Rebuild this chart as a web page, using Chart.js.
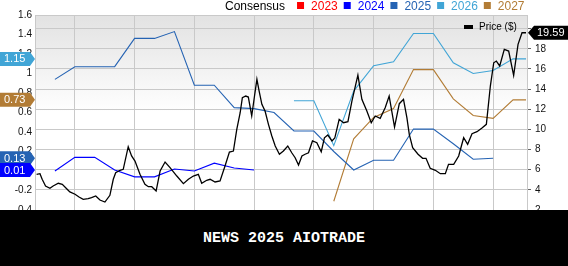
<!DOCTYPE html>
<html>
<head>
<meta charset="utf-8">
<script src="https://cdn.jsdelivr.net/npm/chart.js@4.4.1/dist/chart.umd.min.js"></script>
<style>
html, body { margin: 0; padding: 0; background: #fff; }
#wrap { position: relative; width: 568px; height: 266px; overflow: hidden; }
#c { display: block; }
#band { position: absolute; left: 0; top: 210px; width: 568px; height: 56px; background: #000; color: #fff;
  font: bold 15px "Liberation Mono", "DejaVu Sans Mono", monospace; text-align: center; line-height: 58px; }
</style>
</head>
<body>
<div id="wrap">
  <canvas id="c" width="568" height="220"></canvas>
  <div id="band">NEWS 2025 AIOTRADE</div>
</div>
<script>
// consensus EPS estimates, one value per month (last slot = today)
var years = ['2023', '2024', '2025', '2026', '2027'];
var yearColors = ['#ff0000', '#0000ff', '#2563b3', '#41a5d6', '#b27c35'];
var months = [0, 1, 2, 3, 4, 5, 6, 7, 8, 9, 10, 11, 12, 13, 14, 15, 16, 17, 18, 19, 20, 21, 22, 23, 23.65];

var est2023 = [null, null, null, null, null, null, null, null, null, null, null, null, null, null, null, null, null, null, null, null, null, null, null, null, null];
var est2024 = [0.00, 0.14, 0.14, 0.01, -0.06, -0.06, 0.02, 0.00, 0.08, 0.03, 0.01, null, null, null, null, null, null, null, null, null, null, null, null, null, null];
var est2025 = [0.94, 1.07, 1.07, 1.07, 1.36, 1.36, 1.43, 0.88, 0.88, 0.65, 0.64, 0.60, 0.41, 0.41, 0.20, 0.01, 0.11, 0.11, 0.43, 0.43, 0.28, 0.12, 0.13, null, null];
var est2026 = [null, null, null, null, null, null, null, null, null, null, null, null, 0.72, 0.72, 0.26, 0.82, 1.08, 1.12, 1.41, 1.41, 1.11, 1.00, 1.03, 1.15, 1.15];
var est2027 = [null, null, null, null, null, null, null, null, null, null, null, null, null, null, -0.31, 0.33, 0.55, 0.64, 1.04, 1.04, 0.74, 0.57, 0.54, 0.73, 0.73];

// weekly share price ($), x in months
var priceWeeks = [-0.92, -0.75, -0.64, -0.47, -0.25, -0.09, 0.17, 0.37, 0.59, 0.75, 1.01, 1.21, 1.42, 1.67, 1.84, 2.05, 2.26, 2.51, 2.76, 2.93,
  3.05, 3.27, 3.43, 3.68, 3.85, 4.02, 4.27, 4.52, 4.69, 4.86, 5.08, 5.28, 5.53, 5.78, 6.12, 6.45, 6.70, 6.95, 7.20, 7.37,
  7.62, 7.79, 8.04, 8.29, 8.54, 8.76, 8.96, 9.13, 9.30, 9.41, 9.58, 9.71, 9.88, 10.02, 10.14, 10.25, 10.39, 10.55, 10.72, 10.89,
  11.06, 11.27, 11.47, 11.69, 11.89, 12.06, 12.23, 12.40, 12.56, 12.73, 12.93, 13.15, 13.37, 13.53, 13.70, 13.91, 14.05, 14.27, 14.49, 14.71,
  14.91, 15.21, 15.41, 15.66, 15.88, 16.08, 16.33, 16.58, 16.78, 17.05, 17.29, 17.50, 17.67, 17.79, 17.96, 18.23, 18.46, 18.63, 18.84, 19.10,
  19.35, 19.60, 19.76, 20.02, 20.27, 20.52, 20.72, 20.94, 21.19, 21.44, 21.66, 21.86, 22.03, 22.16, 22.33, 22.56, 22.78, 23.03, 23.25, 23.45, 23.65];
var prices = [5.54, 5.60, 5.05, 4.38, 4.15, 4.38, 4.65, 4.55, 4.11, 3.79, 3.56, 3.29, 3.06, 3.12, 3.22, 3.39, 2.99, 2.79, 3.46, 5.05,
  5.70, 5.94, 6.04, 8.28, 7.36, 6.86, 5.54, 4.55, 4.31, 4.31, 3.88, 5.87, 6.76, 6.20, 5.37, 4.61, 5.05, 5.37, 5.54, 4.65,
  4.95, 5.05, 4.78, 4.88, 6.37, 7.75, 7.85, 10.01, 11.65, 13.14, 13.31, 13.21, 11.33, 13.31, 14.97, 13.81, 12.49, 11.82, 10.50, 9.34,
  8.35, 7.53, 7.85, 8.35, 7.68, 7.19, 6.46, 7.36, 7.53, 7.68, 8.85, 8.68, 7.78, 9.17, 9.44, 8.85, 9.14, 11.00, 10.66, 10.76,
  12.81, 15.39, 12.98, 11.82, 10.66, 11.33, 11.10, 12.15, 13.31, 10.23, 12.55, 12.98, 11.16, 9.51, 8.18, 7.53, 7.13, 7.13, 6.14, 5.94,
  5.60, 5.60, 6.53, 6.53, 7.36, 9.17, 8.52, 9.57, 9.77, 10.13, 10.50, 14.30, 16.61, 16.78, 16.29, 17.94, 17.77, 15.36, 18.44, 19.59, 19.59];

var leftTicks = [-0.4, -0.2, 0, 0.2, 0.4, 0.6, 0.8, 1, 1.2, 1.4, 1.6];
var rightTicks = [2, 4, 6, 8, 10, 12, 14, 16, 18, 20];
var gridMonths = [1, 4, 7, 10, 13, 16, 19, 22];

var FONT = '"Liberation Sans", Arial, sans-serif';
var GRID = '#c9c9c9';
var lastPrice = prices[prices.length - 1];

function pts(xs, ys) {
  return xs.map(function (x, i) { return { x: x, y: ys[i] }; });
}
function lastOf(arr) {
  for (var i = arr.length - 1; i >= 0; i--) if (arr[i] != null) return arr[i];
  return null;
}

var estimates = [est2023, est2024, est2025, est2026, est2027];

var datasets = [{
  label: 'Price ($)', data: pts(priceWeeks, prices), yAxisID: 'yr',
  borderColor: '#000', borderWidth: 1.3, pointRadius: 0, tension: 0
}];
estimates.forEach(function (arr, i) {
  datasets.push({
    label: years[i], data: pts(months, arr), yAxisID: 'yl',
    borderColor: yearColors[i], borderWidth: 1.1, pointRadius: 0, tension: 0, spanGaps: false
  });
});

var bgPlugin = {
  id: 'bg',
  beforeDraw: function (chart) {
    var a = chart.chartArea, ctx = chart.ctx;
    var g = ctx.createLinearGradient(0, a.top, 0, a.bottom);
    g.addColorStop(0, '#e2e2e2');
    g.addColorStop(0.5, '#ffffff');
    g.addColorStop(1, '#ffffff');
    ctx.save();
    ctx.fillStyle = g;
    ctx.fillRect(a.left, a.top, a.right - a.left, a.bottom - a.top);
    ctx.restore();
  },
  beforeDatasetsDraw: function (chart) {
    var a = chart.chartArea, ctx = chart.ctx;
    ctx.save();
    ctx.strokeStyle = GRID;
    ctx.lineWidth = 1;
    ctx.beginPath();
    ctx.moveTo(a.left, Math.round(a.top) + 0.5);
    ctx.lineTo(a.right, Math.round(a.top) + 0.5);
    ctx.stroke();
    ctx.restore();
  }
};

function drawBadge(ctx, y, color, text, side) {
  var h = 14;
  ctx.save();
  ctx.fillStyle = color;
  ctx.beginPath();
  if (side === 'left') {
    ctx.moveTo(0, y - h / 2);
    ctx.lineTo(30, y - h / 2);
    ctx.lineTo(35, y);
    ctx.lineTo(30, y + h / 2);
    ctx.lineTo(0, y + h / 2);
  } else {
    ctx.moveTo(528, y);
    ctx.lineTo(534, y - h / 2);
    ctx.lineTo(568, y - h / 2);
    ctx.lineTo(568, y + h / 2);
    ctx.lineTo(534, y + h / 2);
  }
  ctx.closePath();
  ctx.fill();
  ctx.fillStyle = '#fff';
  ctx.font = '11px ' + FONT;
  ctx.textBaseline = 'middle';
  ctx.fillText(text, side === 'left' ? 4 : 537, y + 0.5);
  ctx.restore();
}

var overlayPlugin = {
  id: 'overlay',
  afterDraw: function (chart) {
    var ctx = chart.ctx;
    var yl = chart.scales.yl, yr = chart.scales.yr;

    // top legend
    ctx.save();
    ctx.font = '12px ' + FONT;
    ctx.textBaseline = 'alphabetic';
    ctx.fillStyle = '#000';
    var x = 225;
    ctx.fillText('Consensus', x, 9.5);
    x += ctx.measureText('Consensus').width + 12;
    years.forEach(function (yr, i) {
      ctx.fillStyle = yearColors[i];
      ctx.fillRect(x, 2, 7, 7);
      x += 14;
      ctx.fillText(yr, x, 9.5);
      x += ctx.measureText(yr).width + 6;
    });

    // price legend inside plot
    ctx.fillStyle = '#000';
    ctx.fillRect(464, 25, 9, 4);
    ctx.font = '10px ' + FONT;
    ctx.fillText('Price ($)', 479, 30);
    ctx.restore();

    // last-value badges
    var order = [3, 4, 2, 1];
    order.forEach(function (i) {
      var v = lastOf(estimates[i]);
      if (v == null) return;
      drawBadge(ctx, yl.getPixelForValue(v), yearColors[i], v.toFixed(2), 'left');
    });
    drawBadge(ctx, yr.getPixelForValue(lastPrice), '#000', lastPrice.toFixed(2), 'right');
  }
};

new Chart(document.getElementById('c'), {
  type: 'line',
  data: { datasets: datasets },
  plugins: [bgPlugin, overlayPlugin],
  options: {
    responsive: false,
    animation: false,
    events: [],
    layout: { padding: { top: 15, left: 0, right: 0, bottom: 0 } },
    plugins: { legend: { display: false }, tooltip: { enabled: false } },
    scales: {
      x: {
        type: 'linear', min: -1, max: 23.7,
        afterBuildTicks: function (s) { s.ticks = gridMonths.map(function (v) { return { value: v }; }); },
        afterFit: function (s) { s.height = 1; },
        ticks: { display: false },
        grid: { color: GRID, lineWidth: 1, drawTicks: false },
        border: { display: false }
      },
      yl: {
        position: 'left', min: -0.4, max: 1.6,
        afterBuildTicks: function (s) { s.ticks = leftTicks.map(function (v) { return { value: v }; }); },
        afterFit: function (s) { s.width = 35; },
        ticks: {
          padding: 3, color: '#111', font: { family: FONT, size: 10 },
          callback: function (v) { return String(Math.round(v * 10) / 10); }
        },
        grid: { display: false, drawTicks: false },
        border: { display: true, color: GRID }
      },
      yr: {
        position: 'right', min: 2, max: 21.35,
        afterBuildTicks: function (s) { s.ticks = rightTicks.map(function (v) { return { value: v }; }); },
        afterFit: function (s) { s.width = 41; },
        ticks: {
          padding: 4, color: '#111', font: { family: FONT, size: 10 },
          // the price badge sits over the label nearest the last price
          callback: function (v) { return Math.abs(v - lastPrice) < 1 ? '' : String(v); }
        },
        grid: { color: GRID, lineWidth: 1, tickLength: 4, tickColor: '#666' },
        border: { display: true, color: GRID }
      }
    }
  }
});
</script>
</body>
</html>
